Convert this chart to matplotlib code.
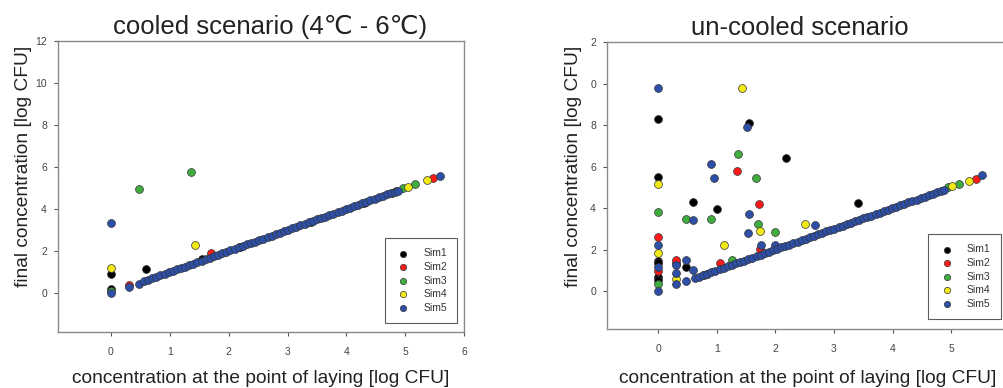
import matplotlib
matplotlib.use("Agg")
import matplotlib.pyplot as plt

plt.rcParams['font.family'] = ['Liberation Sans', 'DejaVu Sans']

# ---------------- data ----------------
sim_labels = ["Sim1", "Sim2", "Sim3", "Sim4", "Sim5"]
sim_colors = ["#000000", "#ff1a1a", "#3fae3f", "#f2ea16", "#2d4fa8"]

# cooled scenario
c_sim1_x = [0, 0, 0.6, 1.55, 2.2, 3.4, 4.3]
c_sim1_y = [0.9, 0.18, 1.13, 1.64, 2.2, 3.4, 4.3]
c_sim2_x = [0.3, 1.7, 4.85, 5.47]
c_sim2_y = [0.38, 1.88, 4.88, 5.49]
c_sim3_x = [0, 0.48, 1.36, 4.97, 5.17]
c_sim3_y = [0.1, 4.94, 5.74, 5.0, 5.18]
c_sim4_x = [0, 1.42, 4.78, 5.05, 5.37]
c_sim4_y = [1.2, 2.3, 4.75, 5.05, 5.37]
c_sim5_x = [0, 0, 0.3, 0.48, 0.56, 0.63, 0.70, 0.77, 0.84, 0.91, 0.98, 1.05, 1.12, 1.19,
            1.26, 1.33, 1.40, 1.47, 1.54, 1.61, 1.68, 1.75, 1.82, 1.89, 1.96, 2.03, 2.10,
            2.17, 2.24, 2.31, 2.38, 2.45, 2.52, 2.59, 2.66, 2.73, 2.80, 2.87, 2.94, 3.01,
            3.08, 3.15, 3.22, 3.29, 3.36, 3.43, 3.50, 3.57, 3.64, 3.71, 3.78, 3.85, 3.92,
            3.99, 4.06, 4.13, 4.20, 4.27, 4.34, 4.41, 4.48, 4.55, 4.62, 4.69, 4.76, 4.83,
            4.88, 5.59]
c_sim5_y = [3.35, 0.0, 0.27, 0.45, 0.56, 0.63, 0.70, 0.77, 0.84, 0.91, 0.98, 1.05, 1.12, 1.19,
            1.26, 1.33, 1.40, 1.47, 1.54, 1.61, 1.68, 1.75, 1.82, 1.89, 1.96, 2.03, 2.10,
            2.17, 2.24, 2.31, 2.38, 2.45, 2.52, 2.59, 2.66, 2.73, 2.80, 2.87, 2.94, 3.01,
            3.08, 3.15, 3.22, 3.29, 3.36, 3.43, 3.50, 3.57, 3.64, 3.71, 3.78, 3.85, 3.92,
            3.99, 4.06, 4.13, 4.20, 4.27, 4.34, 4.41, 4.48, 4.55, 4.62, 4.69, 4.76, 4.83,
            4.88, 5.59]

# un-cooled scenario
u_sim1_x = [0, 0, 0, 0, 0, 0, 0.3, 0.48, 0.6, 1.0, 1.55, 2.18, 3.41]
u_sim1_y = [8.27, 5.5, 1.44, 1.35, 0.66, 0.55, 1.33, 1.15, 4.3, 3.94, 8.08, 6.41, 4.22]
u_sim2_x = [0, 0, 0.3, 1.05, 1.35, 1.72, 1.74, 5.43]
u_sim2_y = [2.61, 0.95, 1.52, 1.35, 5.78, 4.21, 2.05, 5.42]
u_sim3_x = [0, 0, 0.48, 0.9, 1.27, 1.37, 1.67, 1.71, 1.99, 0.83, 4.94, 5.14]
u_sim3_y = [3.8, 0.34, 3.45, 3.45, 1.49, 6.6, 5.45, 3.25, 2.84, 0.83, 4.99, 5.18]
u_sim4_x = [0, 0, 0.3, 1.12, 1.43, 1.74, 2.51, 5.02, 5.31, 0.78]
u_sim4_y = [5.14, 1.84, 0.58, 2.23, 9.79, 2.88, 3.22, 5.05, 5.3, 0.78]
u_sim5_x = [0, 0, 0, 0, 0.3, 0.3, 0.3, 0.48, 0.48, 0.6, 0.6, 0.9, 0.96, 1.52, 1.54, 1.55,
            1.75, 1.99, 2.68, 0.63, 0.70, 0.77, 0.84, 0.91, 0.98, 1.05, 1.12, 1.19,
            1.26, 1.33, 1.40, 1.47, 1.54, 1.61, 1.68, 1.75, 1.82, 1.89, 1.96, 2.03, 2.10,
            2.17, 2.24, 2.31, 2.38, 2.45, 2.52, 2.59, 2.66, 2.73, 2.80, 2.87, 2.94, 3.01,
            3.08, 3.15, 3.22, 3.29, 3.36, 3.43, 3.50, 3.57, 3.64, 3.71, 3.78, 3.85, 3.92,
            3.99, 4.06, 4.13, 4.20, 4.27, 4.34, 4.41, 4.48, 4.55, 4.62, 4.69, 4.76, 4.83,
            4.88, 5.53]
u_sim5_y = [9.77, 2.24, 1.14, 0.01, 1.24, 0.85, 0.34, 1.52, 0.5, 1.0, 3.44, 6.1, 5.45, 7.9, 2.8, 3.69,
            2.24, 2.24, 3.2, 0.63, 0.70, 0.77, 0.84, 0.91, 0.98, 1.05, 1.12, 1.19,
            1.26, 1.33, 1.40, 1.47, 1.54, 1.61, 1.68, 1.75, 1.82, 1.89, 1.96, 2.03, 2.10,
            2.17, 2.24, 2.31, 2.38, 2.45, 2.52, 2.59, 2.66, 2.73, 2.80, 2.87, 2.94, 3.01,
            3.08, 3.15, 3.22, 3.29, 3.36, 3.43, 3.50, 3.57, 3.64, 3.71, 3.78, 3.85, 3.92,
            3.99, 4.06, 4.13, 4.20, 4.27, 4.34, 4.41, 4.48, 4.55, 4.62, 4.69, 4.76, 4.83,
            4.88, 5.58]

c_x_ticks = [0, 1, 2, 3, 4, 5, 6]
c_x_ticklabels = ["0", "1", "2", "3", "4", "5", "6"]
u_x_ticks = [0, 1, 2, 3, 4, 5]
u_x_ticklabels = ["0", "1", "2", "3", "4", "5"]
y_ticks = [0, 2, 4, 6, 8, 10, 12]
c_y_ticklabels = ["0", "2", "4", "6", "8", "10", "12"]
u_y_ticklabels = ["0", "2", "4", "6", "8", "0", "2"]

titles = ["cooled scenario (4\u2103 - 6\u2103)", "un-cooled scenario"]
xlabel = "concentration at the point of laying [log CFU]"
ylabel = "final concentration [log CFU]"

# ---------------- figure ----------------
fig = plt.figure(figsize=(10.04, 3.88), dpi=100)
ax1 = fig.add_axes([0.0578, 0.1443, 0.4044, 0.750])
ax2 = fig.add_axes([0.6046, 0.152, 0.3994, 0.7397])

spine_col = "#8a8a8a"


def draw(ax, xs, ys, xlim, ylim, xticks, xticklabels, yticklabels, title, title_x,
         ylab_xy, xlab_pad, leg_anchor):
    for x, y, c, lab in zip(xs, ys, sim_colors, sim_labels):
        ax.scatter(x, y, s=32, c=c, edgecolors="#333333", linewidths=0.5, label=lab, zorder=3)
    ax.set_xlim(*xlim)
    ax.set_ylim(*ylim)
    ax.set_xticks(xticks)
    ax.set_xticklabels(xticklabels)
    ax.set_yticks(y_ticks)
    ax.set_yticklabels(yticklabels)
    for sp in ax.spines.values():
        sp.set_color(spine_col)
        sp.set_linewidth(1.0)
    ax.tick_params(direction="out", length=3, width=0.8, color="#555555",
                   labelsize=7.5, labelcolor="#444444")
    ax.tick_params(axis="y", pad=5)
    ax.tick_params(axis="x", pad=8)
    ax.set_title(title, fontsize=18.5, color="#222222", pad=5, x=title_x)
    ax.set_xlabel(xlabel, fontsize=13.8, color="#222222", labelpad=xlab_pad)
    ax.set_ylabel(ylabel, fontsize=13.8, color="#222222")
    ax.yaxis.set_label_coords(*ylab_xy)
    leg = ax.legend(loc="lower right", bbox_to_anchor=leg_anchor, fontsize=7.5,
                    frameon=True, fancybox=False, borderpad=1.0, handletextpad=1.2,
                    labelspacing=0.35, markerscale=0.8, handlelength=1.5,
                    borderaxespad=0)
    leg.get_frame().set_edgecolor("#333333")
    leg.get_frame().set_linewidth(0.8)
    for t in leg.get_texts():
        t.set_color("#333333")


draw(ax1, [c_sim1_x, c_sim2_x, c_sim3_x, c_sim4_x, c_sim5_x],
     [c_sim1_y, c_sim2_y, c_sim3_y, c_sim4_y, c_sim5_y],
     (-0.9, 6.0), (-1.86, 12), c_x_ticks, c_x_ticklabels, c_y_ticklabels, titles[0],
     0.522, (-0.064, 0.57), 9, (0.9835, 0.030))
draw(ax2, [u_sim1_x, u_sim2_x, u_sim3_x, u_sim4_x, u_sim5_x],
     [u_sim1_y, u_sim2_y, u_sim3_y, u_sim4_y, u_sim5_y],
     (-0.87, 5.97), (-1.83, 12), u_x_ticks, u_x_ticklabels, u_y_ticklabels, titles[1],
     0.481, (-0.063, 0.566), 11, (0.9825, 0.034))

fig.savefig("out.png", dpi=100)
